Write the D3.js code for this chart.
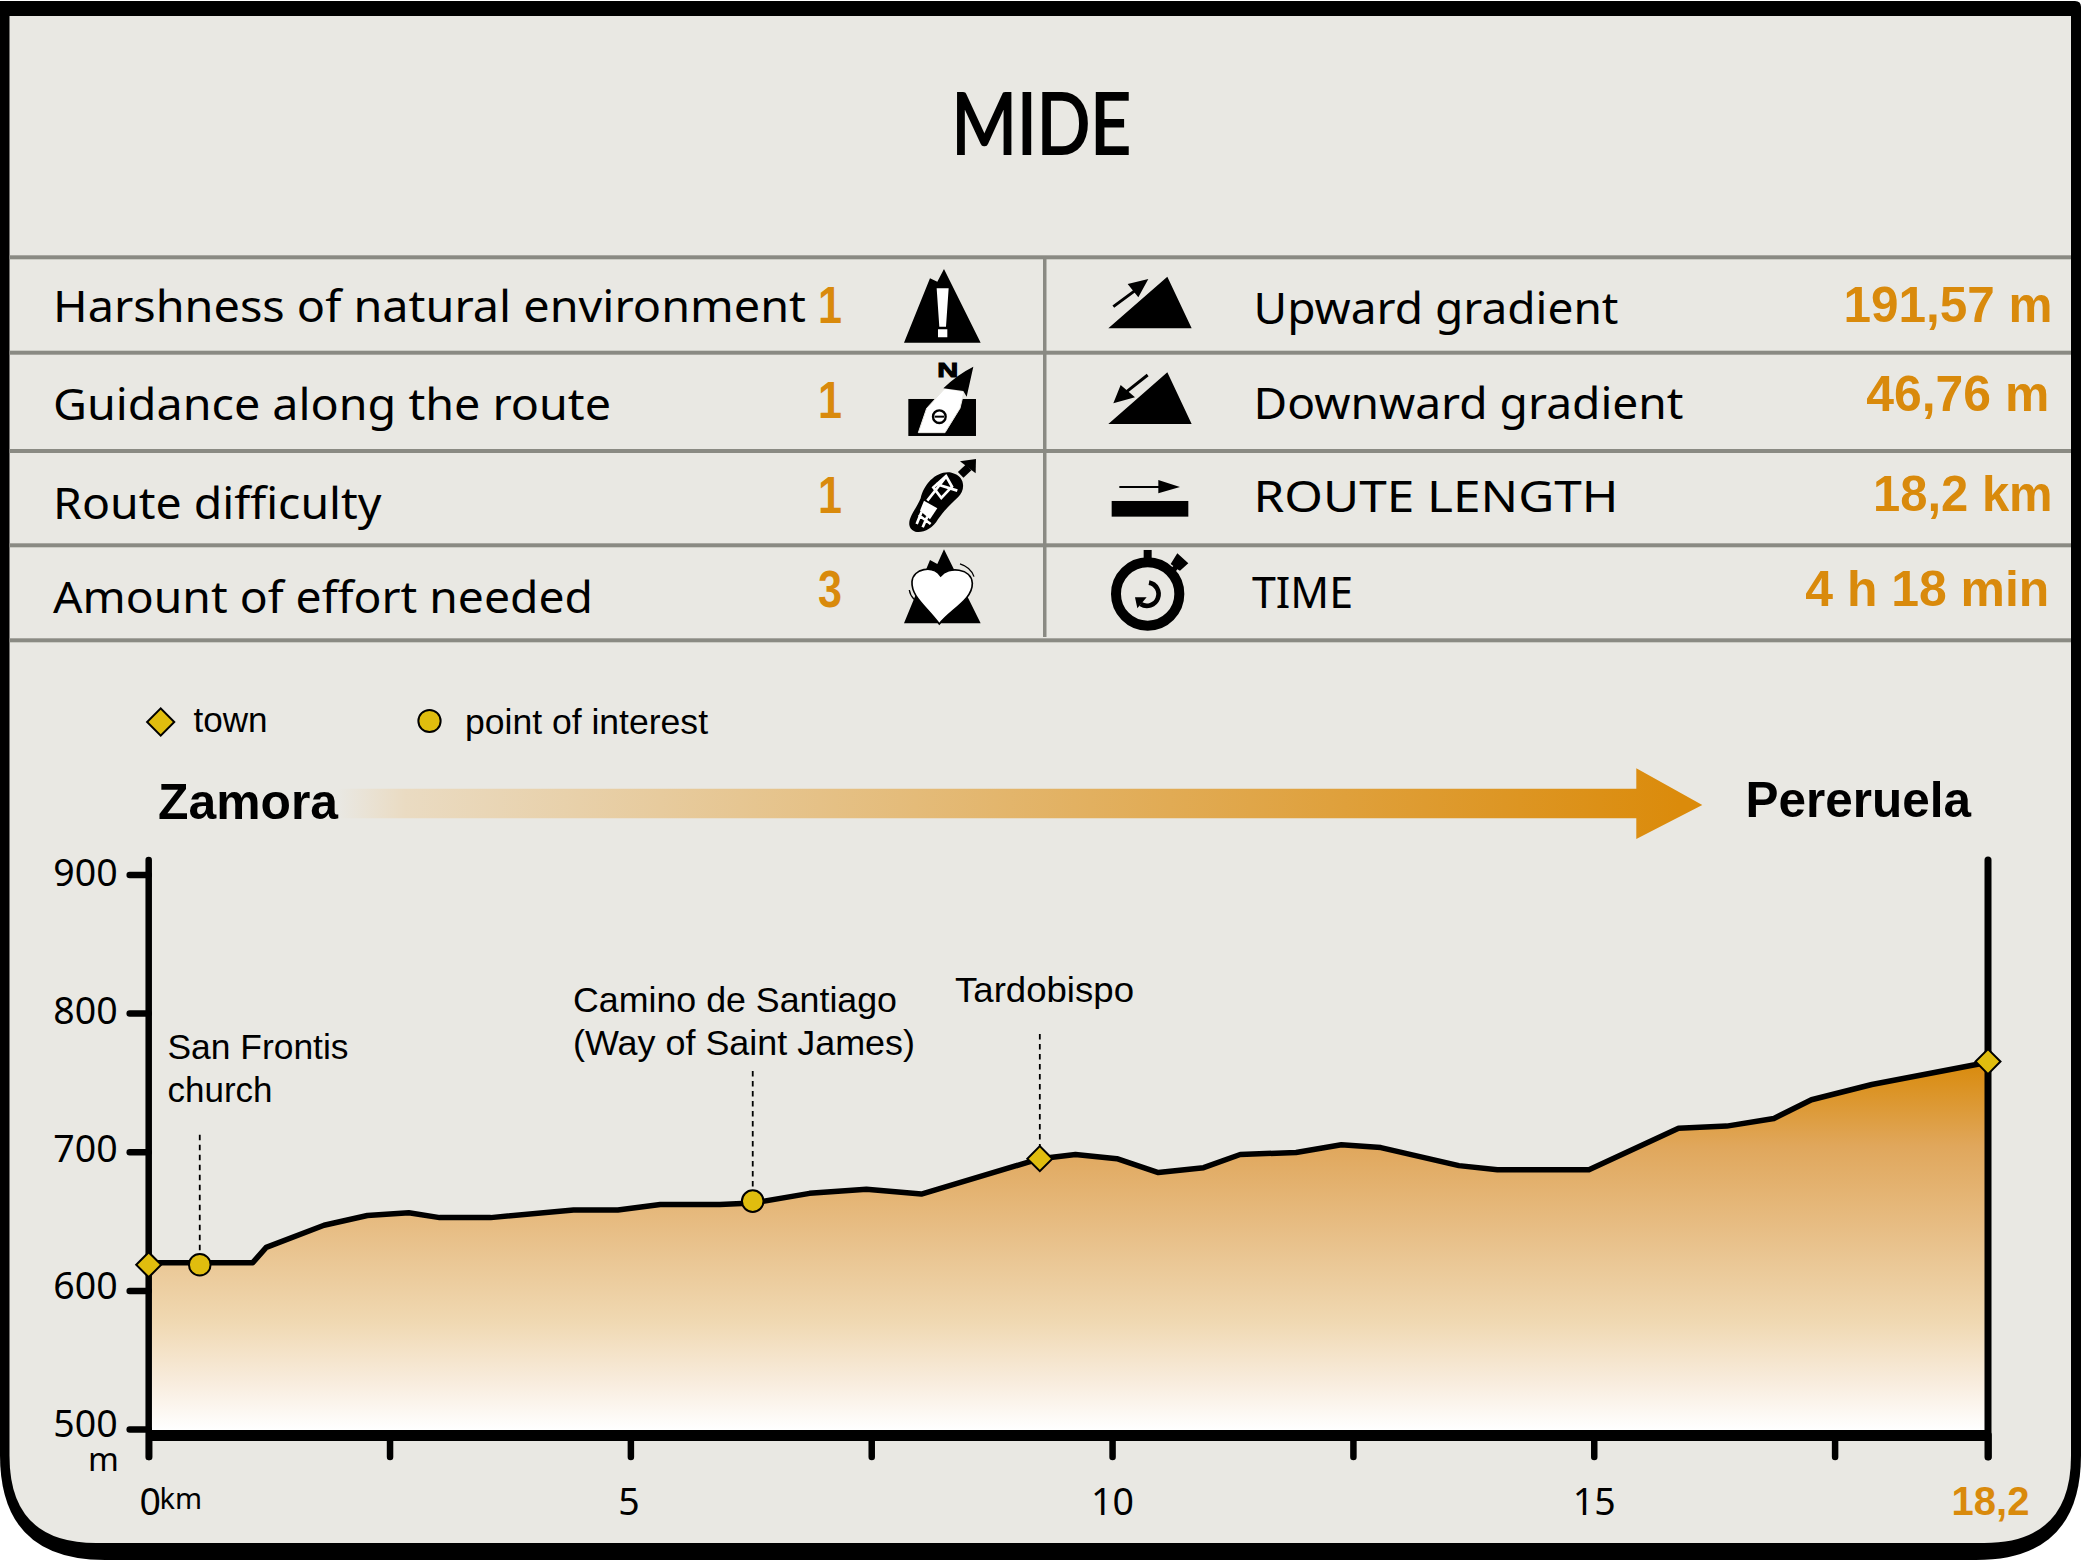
<!DOCTYPE html>
<html><head><meta charset="utf-8">
<style>html,body{margin:0;padding:0;background:#fff}svg{display:block}text{white-space:pre}</style>
<script src="https://cdn.jsdelivr.net/npm/d3@7"></script></head>
<body><svg id="c" width="2081" height="1560" viewBox="0 0 2081 1560"></svg>
<script>
// ---- data ----
const titleText = "MIDE";
const leftLabels = ["Harshness of natural environment","Guidance along the route","Route difficulty","Amount of effort needed"];
const leftScores = ["1","1","1","3"];
const rightLabels = ["Upward gradient","Downward gradient","ROUTE LENGTH","TIME"];
const rightValues = ["191,57 m","46,76 m","18,2 km","4 h 18 min"];
const profileKm   = [0,1.08,1.22,1.82,2.27,2.70,3.02,3.55,4.41,4.87,5.31,5.93,6.27,6.86,7.45,8.02,9.25,9.62,10.05,10.48,10.95,11.33,11.91,12.38,12.79,13.6,14.0,14.95,15.88,16.38,16.87,17.26,17.67,18.2];
const profileElev = [620,620,631,647,654,656,652.5,652.5,658,658,662,662,663,670,673,669.5,695,698,695,685,688.5,698,699.5,705,703,690,687,687,717,718.5,724,737.5,748.5,764.5];
const yTicks = [500,600,700,800,900];
const xTicks = [0,2.5,5,7.5,10,12.5,15,17.5,18.2];
const xTickLabels = ["0","","5","","10","","15","","18,2"];
const townNames = ["Zamora","Tardobispo","Pereruela"];
const townKm = [0,9.25,18.2];
const townElev = [618.5,695,765];
const poiNames = ["San Frontis church","Camino de Santiago (Way of Saint James)"];
const poiKm = [0.53,6.27];
const poiElev = [618.5,664.4];
const legendLabels = ["town","point of interest"];

// ---- style & layout ----
const BG="#e9e8e3", ORANGE="#d98a0c", RULE="#8a8a83", YEL="#e0bd0e";
const HUM="'Noto Sans',sans-serif", ARIAL="'Liberation Sans',Arial,sans-serif";
const svg=d3.select("#c");
const defs=svg.append("defs");

function txt(s,x,y,size,opts={}){
  const t=svg.append("text").attr("x",x).attr("y",y).attr("font-size",size)
    .attr("font-family",opts.font||HUM).attr("fill",opts.fill||"#000")
    .attr("font-weight",opts.bold?"bold":"normal").attr("text-anchor",opts.anchor||"start").text(s);
  if(opts.len) t.attr("textLength",opts.len).attr("lengthAdjust","spacingAndGlyphs");
  return t;
}

// frame
svg.append("path").attr("fill","#000").attr("d","M0,1 H2075 Q2081,1 2081,7 V1455 Q2081,1560 1976,1560 H105 Q0,1560 0,1455 Z");
svg.append("path").attr("fill",BG).attr("d","M9.5,16 H2071 V1456 Q2071,1543 1984,1543 H96 Q9.5,1543 9.5,1456 Z");

// title
txt(titleText,951.5,154,85,{font:"Lato,sans-serif",len:179.5}).attr("stroke","#000").attr("stroke-width",2.2);

// table
[257.3,352.7,451,545.3,640.3].forEach(y=>svg.append("rect").attr("x",9.5).attr("y",y-2).attr("width",2061.5).attr("height",4).attr("fill",RULE));
svg.append("rect").attr("x",1043).attr("y",257).attr("width",3.5).attr("height",380).attr("fill",RULE);

const leftBase=[321.7,420.3,519.3,613.3], leftLen=[753,558,328.5,540];
const scoreBase=[323,418.3,513,606.7];
leftLabels.forEach((s,i)=>{
  txt(s,53,leftBase[i],44,{len:leftLen[i]});
  txt(leftScores[i],830,scoreBase[i],51,{font:ARIAL,bold:true,fill:ORANGE,anchor:"middle",len:24});
});
const rightX=[1253.5,1253.5,1253.5,1252], rightBase=[324.3,419.3,512.3,608.3], rightLen=[365,430,365,101];
const valBase=[321.7,411,510.7,605.7], valEnd=[2052.6,2049.3,2052.6,2049.3], valLen=[209,183,179.5,244];
rightLabels.forEach((s,i)=>{
  txt(s,rightX[i],rightBase[i],44,{len:rightLen[i]});
  txt(rightValues[i],valEnd[i],valBase[i],50,{font:ARIAL,bold:true,fill:ORANGE,anchor:"end",len:valLen[i]});
});

// icons (drawn at 3x, as pictograms)
const icL=svg.append("g").attr("transform","translate(850,260) scale(0.3333)");
icL.append("path").attr("d","M162,248 L240,55 L262,65 L282,27 L392,248 Z");
icL.append("path").attr("fill","#fff").attr("d","M260,85 H296 L288,200 H268 Z M264,208 H292 V232 H264 Z");
icL.append("rect").attr("x",175).attr("y",417).attr("width",203).attr("height",111);
icL.append("path").attr("fill",BG).attr("d","M342,385 L395,380 L395,417 L350,417 Z");
icL.append("path").attr("fill","#fff").attr("stroke",BG).attr("stroke-width",3).attr("d","M205,518 L230,445 L285,385 L342,395 L330,445 L285,518 Z");
icL.append("path").attr("d","M370,320 L350,410 L340,393 L280,385 Q320,345 370,320 Z");
icL.append("text").attr("x",262).attr("y",350).attr("font-family",ARIAL).attr("font-weight","bold").attr("font-size",63).attr("textLength",63).attr("lengthAdjust","spacingAndGlyphs").attr("stroke","#000").attr("stroke-width",3).text("N");
icL.append("circle").attr("cx",268).attr("cy",470).attr("r",19).attr("fill","none").attr("stroke","#000").attr("stroke-width",7);
icL.append("line").attr("x1",254).attr("x2",282).attr("y1",470).attr("y2",470).attr("stroke","#000").attr("stroke-width",6);
// boot
icL.append("path").attr("d","M178,795 C175,770 200,745 212,715 C222,670 262,630 305,638 C347,648 347,690 324,712 C297,738 282,752 264,778 C240,820 185,830 178,795 Z");
icL.append("path").attr("fill","#fff").attr("d","M222,722 L262,745 L240,778 L210,752 Z");
icL.append("path").attr("fill","none").attr("stroke","#fff").attr("stroke-width",8).attr("d","M288,648 L306,680 L274,714 L250,682 Z M258,672 L322,692 M232,722 L290,648 M206,765 L242,792 M215,755 L200,792 M232,770 L218,802");
icL.append("line").attr("x1",332).attr("y1",645).attr("x2",356).attr("y2",622).attr("stroke","#000").attr("stroke-width",24);
icL.append("path").attr("d","M330,604 L378,597 L377,640 Z");
// heart
icL.append("path").attr("d","M162,1090 L240,900 L262,912 L282,868 L392,1090 Z");
icL.append("path").attr("fill","#fff").attr("stroke","#000").attr("stroke-width",5).attr("d","M268,1092 C230,1040 183,1010 186,965 C190,925 248,915 272,948 C295,918 365,925 367,970 C368,1020 300,1050 268,1092 Z");
icL.append("path").attr("fill","none").attr("stroke","#000").attr("stroke-width",4).attr("d","M330,912 Q362,922 372,950 M178,990 Q180,1005 192,1018");

const icR=svg.append("g").attr("transform","translate(1080,260) scale(0.3333)");
icR.append("path").attr("d","M85,205 L262,50 L335,205 Z M85,492 L262,337 L335,492 Z");
icR.append("path").attr("d","M143,72 L205,57 L175,112 Z M100,430 L122,375 L165,412 Z M235,660 L300,681 L235,700 Z");
icR.append("path").attr("fill","none").attr("stroke","#000").attr("stroke-width",9).attr("d","M100,140 L170,88 M203,345 L140,395");
icR.append("line").attr("x1",118).attr("x2",240).attr("y1",681).attr("y2",681).attr("stroke","#000").attr("stroke-width",6);
icR.append("rect").attr("x",95).attr("y",723).attr("width",230).attr("height",47);
icR.append("circle").attr("cx",203).attr("cy",1002).attr("r",95).attr("fill","none").attr("stroke","#000").attr("stroke-width",30);
icR.append("rect").attr("x",191).attr("y",870).attr("width",24).attr("height",35);
icR.append("path").attr("d","M272,912 L292,880 L325,910 L300,932 L292,928 L282,942 L268,930 L280,918 Z");
icR.append("path").attr("fill","none").attr("stroke","#000").attr("stroke-width",14).attr("d","M207,968 A35,35 0 1 1 182,1032");
icR.append("path").attr("d","M165,1012 L200,1012 L172,1045 Z");

// legend
const marker=(sel,kind,x,y,scale=1)=>{
  if(kind==="town"){
    sel.append("path").attr("d",d3.symbol(d3.symbolSquare,312*scale)()).attr("transform",`translate(${x},${y}) rotate(45)`)
       .attr("fill",YEL).attr("stroke","#000").attr("stroke-width",2);
  } else {
    sel.append("circle").attr("cx",x).attr("cy",y).attr("r",10.8*scale).attr("fill",YEL).attr("stroke","#000").attr("stroke-width",2);
  }
};
marker(svg,"town",160.7,722,1.18);
marker(svg,"poi",429.5,721,1.03);
txt(legendLabels[0],193.6,731.7,34.5,{font:ARIAL,len:74});
txt(legendLabels[1],465,733.7,34.5,{font:ARIAL,len:243});

// direction arrow
const ag=defs.append("linearGradient").attr("id","ag").attr("gradientUnits","userSpaceOnUse").attr("x1",338).attr("x2",1680).attr("y1",0).attr("y2",0);
ag.append("stop").attr("offset",0).attr("stop-color",BG);
ag.append("stop").attr("offset",0.05).attr("stop-color","#eadbc2");
ag.append("stop").attr("offset",1).attr("stop-color","#db8b0b");
svg.append("path").attr("fill","url(#ag)").attr("d","M338,788.7 H1636.3 V768.3 L1702.3,805 L1636.3,839 V818.3 H338 Z");
txt(townNames[0],158,819.3,49.5,{font:ARIAL,bold:true,len:180});
txt(townNames[2],1745.5,817.3,49.5,{font:ARIAL,bold:true,len:225.5});

// chart scales
const x=d3.scaleLinear().domain([0,17.5,18.2]).range([148.7,1834.6,1988]);
const y=d3.scaleLinear().domain([500,900]).range([1429.1,874.4]);
const pts=profileKm.map((k,i)=>[k,profileElev[i]]);

const fg=defs.append("linearGradient").attr("id","fg").attr("gradientUnits","userSpaceOnUse").attr("x1",0).attr("x2",0).attr("y1",y(765)).attr("y2",1430);
[[0,"#d98a0a"],[0.23,"#e0a75c"],[0.45,"#e7bd84"],[0.71,"#f0d9b3"],[0.87,"#f8ecdd"],[1,"#ffffff"]]
  .forEach(s=>fg.append("stop").attr("offset",s[0]).attr("stop-color",s[1]));

svg.append("path").datum(pts).attr("fill","url(#fg)").attr("d",d3.area().x(d=>x(d[0])).y0(1431).y1(d=>y(d[1])));
svg.append("path").datum(pts).attr("fill","none").attr("stroke","#000").attr("stroke-width",5.5).attr("stroke-linejoin","round").attr("d",d3.line().x(d=>x(d[0])).y(d=>y(d[1])));

// axes
const yLabelShift=d3.scaleLinear().domain([500,900]).range([7,11.5]);
const yAxis=svg.append("g").attr("transform","translate(148.7,0)").call(d3.axisLeft(y).tickValues(yTicks).tickSize(19).tickPadding(12).tickFormat(d3.format("d")));
yAxis.select(".domain").remove();
yAxis.selectAll("line").attr("stroke","#000").attr("stroke-width",6.5).attr("stroke-linecap","round");
yAxis.selectAll("text").attr("font-family",HUM).attr("font-size",37.5).attr("fill","#000").attr("dy",null).attr("y",d=>yLabelShift(d));

const xLabelShift=[1,0,-2,0,0,0,0,0,2];
const xAxis=svg.append("g").attr("transform","translate(0,1435)").call(d3.axisBottom(x).tickValues(xTicks).tickSize(22).tickSizeOuter(0).tickFormat((d,i)=>xTickLabels[i]));
xAxis.select(".domain").attr("stroke","#000").attr("stroke-width",11);
xAxis.selectAll("line").attr("stroke","#000").attr("stroke-width",6.5).attr("stroke-linecap","round");
xAxis.selectAll("text").attr("font-family",HUM).attr("font-size",37.5).attr("fill","#000").attr("dy",null).attr("y",79.5).attr("x",(d,i)=>xLabelShift[i]);
xAxis.selectAll("text").filter((d,i)=>i===8).attr("font-family",ARIAL).attr("font-weight","bold").attr("font-size",40).attr("fill",ORANGE);

// vertical rails
[[148.7,6.5],[1988,7]].forEach(r=>svg.append("line").attr("x1",r[0]).attr("x2",r[0]).attr("y1",860).attr("y2",1457).attr("stroke","#000").attr("stroke-width",r[1]).attr("stroke-linecap","round"));
txt("m",88,1471,33);
txt("km",159.5,1509.4,29);

// leaders
const dash=(k,top,v)=>svg.append("line").attr("x1",x(k)).attr("x2",x(k)).attr("y1",top).attr("y2",y(v)).attr("stroke","#000").attr("stroke-width",1.8).attr("stroke-dasharray","5.5 4.5");
dash(poiKm[0],1134.8,poiElev[0]);
dash(poiKm[1],1071,poiElev[1]);
dash(townKm[1],1033.9,townElev[1]);

// markers
townKm.forEach((k,i)=>marker(svg,"town",x(k),y(townElev[i])));
poiKm.forEach((k,i)=>marker(svg,"poi",x(k),y(poiElev[i])));

// place labels
txt("San Frontis",167.5,1059,35,{font:ARIAL,len:181});
txt("church",167.5,1102.2,35,{font:ARIAL,len:105});
txt("Camino de Santiago",573,1011.5,35,{font:ARIAL,len:324});
txt("(Way of Saint James)",573,1054.8,35,{font:ARIAL,len:342});
txt(townNames[1],955,1002.3,35,{font:ARIAL,len:179});
</script></body></html>
